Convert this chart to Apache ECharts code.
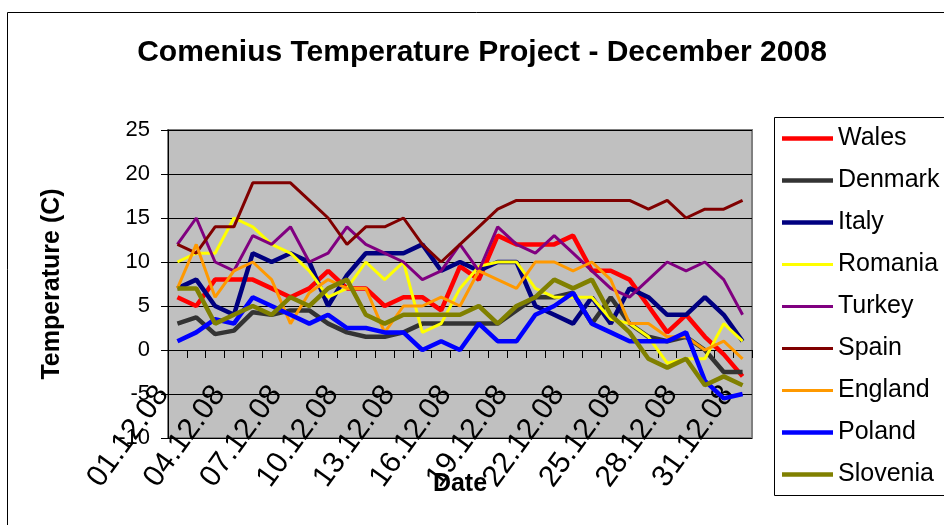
<!DOCTYPE html>
<html><head><meta charset="utf-8">
<script src="https://cdn.jsdelivr.net/npm/echarts@6/dist/echarts.min.js"></script>
<style>html,body{margin:0;padding:0;background:#fff}#c{width:944px;height:525px}</style>
</head><body><div id="c"></div>
<script>
const categories = ['01.12.08','02.12.08','03.12.08','04.12.08','05.12.08','06.12.08','07.12.08','08.12.08','09.12.08','10.12.08',
  '11.12.08','12.12.08','13.12.08','14.12.08','15.12.08','16.12.08','17.12.08','18.12.08','19.12.08','20.12.08',
  '21.12.08','22.12.08','23.12.08','24.12.08','25.12.08','26.12.08','27.12.08','28.12.08','29.12.08','30.12.08','31.12.08'];
const wales    = [6,5,8,8,8,7,6,7,9,7,7,5,6,6,4.5,9.5,8,13,12,12,12,13,9,9,8,5,2,4,1.5,-0.5,-3];
const denmark  = [3,3.7,1.8,2.2,4.3,4,4.5,4.5,3,2,1.5,1.5,2,3,3,3,3,3,4.5,6,6,6.5,3,6,3,1.5,1,1.5,0,-2.5,-2.5];
const italy    = [7,8,5,4,11,10,11,10,5,8.5,11,11,11,12,9,10,9,10,10,5,4,3,6,3,7,6,4,4,6,4,1];
const romania  = [10,11,11,15,14,12,11,9,6,7,10,8,10,2,3,7,9.5,10,10,7,6,6,6,3.5,3,1.5,-1.5,-1,-1,3,1];
const turkey   = [12,15,10,9,13,12,14,10,11,14,12,11,10,8,9,12,9,14,12,11,13,11,9,7,6,8,10,9,10,8,4];
const spain    = [12,11,14,14,19,19,19,17,15,12,14,14,15,12,10,12,14,16,17,17,17,17,17,17,17,16,17,15,16,16,17];
const england  = [7,12,6,9,10,8,3,6.5,8,7,7,2,5,5,6,5,9,8,7,10,10,9,10,8,3,3,1.5,1.5,0,1,-1];
const poland   = [1,2,3.5,3,6,5,4,3,4,2.5,2.5,2,2,0,1,0,3,1,1,4,5,6.5,3,2,1,1,1,2,-3.5,-5.5,-5];
const slovenia = [7,7,3,4,5,4,6,5,7,8,4,3,4,4,4,4,5,3,5,6,8,7,8,4,2,-1,-2,-1,-4,-3,-4];

const seriesNames  = ['Wales','Denmark','Italy','Romania','Turkey','Spain','England','Poland','Slovenia'];
const seriesData   = [wales, denmark, italy, romania, turkey, spain, england, poland, slovenia];
const seriesColors = ['#FF0000','#333333','#000080','#FFFF00','#800080','#800000','#FF9900','#0000FF','#808000'];
const seriesWidths = [4.5,4.5,4.5,3,3,3,3,4.5,4.5];

const yMin = -10, yMax = 25, yStep = 5;
const FONT = 'Arial, "Liberation Sans", sans-serif';

// layout (pixels)
const W = 944, H = 525;
const gridLeft = 168, gridRight = 192, gridTop = 130, gridBottom = 87;
const plotH = H - gridTop - gridBottom;
// move the category axis up so it sits on the value 0, as in the reference
const xAxisOffset = -plotH * (0 - yMin) / (yMax - yMin);

const chart = echarts.init(document.getElementById('c'), null, {renderer: 'canvas'});
chart.setOption({
  animation: false,
  backgroundColor: '#fff',
  textStyle: {fontFamily: FONT, color: '#000'},
  title: {
    text: 'Comenius Temperature Project - December 2008',
    left: 477, top: 33, textAlign: 'center',
    textStyle: {fontFamily: FONT, fontSize: 30, fontWeight: 'bold', color: '#000'}
  },
  graphic: [
    {type: 'rect', silent: true, z: 100, shape: {x: 7.5, y: 12.5, width: 1000, height: 600},
     style: {fill: 'none', stroke: '#000', lineWidth: 1}},
    {type: 'rect', silent: true, z: 100, shape: {x: 774.5, y: 117.5, width: 220, height: 378},
     style: {fill: 'none', stroke: '#000', lineWidth: 1}}
  ],
  legend: {
    orient: 'vertical', left: 777, top: 121,
    itemWidth: 51, itemHeight: 25, itemGap: 17,
    symbolKeepAspect: true,
    textStyle: {fontFamily: FONT, fontSize: 25, color: '#000', lineHeight: 25},
    data: seriesNames.map((n, i) => ({
      name: n,
      icon: 'path://M0,0H51V' + seriesWidths[i] + 'H0Z'
    }))
  },
  grid: {
    left: gridLeft, right: gridRight, top: gridTop, bottom: gridBottom,
    outerBoundsMode: 'none', containLabel: false,
    show: true, backgroundColor: '#C0C0C0', borderColor: '#808080', borderWidth: 2
  },
  xAxis: {
    type: 'category', data: categories, boundaryGap: true,
    position: 'bottom', offset: xAxisOffset,
    axisLine: {onZero: false, lineStyle: {color: '#000', width: 1}},
    axisTick: {show: true, interval: 0, length: 8, lineStyle: {color: '#000'}},
    axisLabel: {interval: 2, rotate: 54, margin: 19, padding: [0, 25, 0, 0],
                fontSize: 30, color: '#000', fontFamily: FONT},
    splitLine: {show: false},
    name: 'Date', nameLocation: 'middle', nameGap: 122, nameMoveOverlap: false,
    nameTextStyle: {fontSize: 25, fontWeight: 'bold', color: '#000', fontFamily: FONT}
  },
  yAxis: {
    type: 'value', min: yMin, max: yMax, interval: yStep,
    axisLine: {show: true, onZero: false, lineStyle: {color: '#000', width: 1}},
    axisTick: {show: true, length: 7, lineStyle: {color: '#000'}},
    axisLabel: {fontSize: 22, color: '#000', margin: 18, fontFamily: FONT},
    splitLine: {show: true, lineStyle: {color: '#000', width: 1}},
    name: 'Temperature (C)', nameLocation: 'middle', nameGap: 103, nameRotate: 90, nameMoveOverlap: false,
    nameTextStyle: {fontSize: 25, fontWeight: 'bold', color: '#000', fontFamily: FONT}
  },
  series: seriesNames.map((n, i) => ({
    type: 'line', name: n, data: seriesData[i], symbol: 'none',
    color: seriesColors[i],
    lineStyle: {width: seriesWidths[i], color: seriesColors[i]},
    itemStyle: {color: seriesColors[i]}
  }))
});
</script></body></html>
